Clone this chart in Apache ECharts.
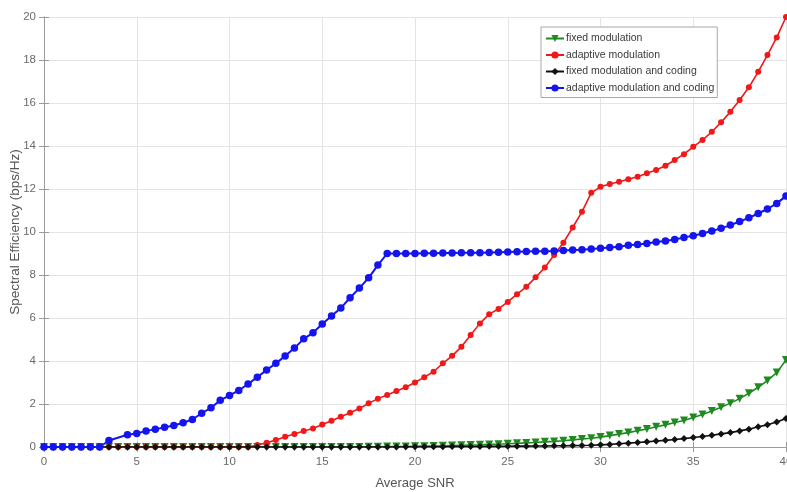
<!DOCTYPE html>
<html>
<head>
<meta charset="utf-8">
<script src="https://cdn.jsdelivr.net/npm/echarts@6/dist/echarts.min.js"></script>
<style>
  html, body { margin: 0; padding: 0; background: #fff; }
  #chart { width: 787px; height: 492px; }
</style>
</head>
<body>
<div id="chart"></div>
<script>
// Average SNR sample points (dB), 0.5 dB apart
const snr = [
  0, 0.5, 1, 1.5, 2, 2.5, 3, 3.5, 4, 4.5,
  5, 5.5, 6, 6.5, 7, 7.5, 8, 8.5, 9, 9.5,
  10, 10.5, 11, 11.5, 12, 12.5, 13, 13.5, 14, 14.5,
  15, 15.5, 16, 16.5, 17, 17.5, 18, 18.5, 19, 19.5,
  20, 20.5, 21, 21.5, 22, 22.5, 23, 23.5, 24, 24.5,
  25, 25.5, 26, 26.5, 27, 27.5, 28, 28.5, 29, 29.5,
  30, 30.5, 31, 31.5, 32, 32.5, 33, 33.5, 34, 34.5,
  35, 35.5, 36, 36.5, 37, 37.5, 38, 38.5, 39, 39.5,
  40
];

// Spectral efficiency (bps/Hz) per scheme
const fixedModulation = [
  0, 0, 0, 0, 0, 0, 0, 0, 0, 0,
  0, 0, 0, 0, 0, 0, 0, 0, 0, 0,
  0, 0, 0, 0, 0, 0, 0, 0, 0, 0,
  0, 0, 0, 0, 0, 0.01, 0.01, 0.02, 0.02, 0.02,
  0.03, 0.04, 0.05, 0.06, 0.07, 0.08, 0.09, 0.1, 0.12, 0.13,
  0.15, 0.17, 0.19, 0.21, 0.24, 0.26, 0.29, 0.33, 0.37, 0.41,
  0.46, 0.53, 0.6, 0.67, 0.76, 0.84, 0.94, 1.03, 1.14, 1.23,
  1.37, 1.51, 1.67, 1.85, 2.04, 2.25, 2.5, 2.78, 3.09, 3.46,
  4.05
];

const adaptiveModulation = [
  0, 0, 0, 0, 0, 0, 0, 0, 0, 0,
  0, 0, 0, 0, 0, 0, 0, 0, 0, 0,
  0, 0, 0, 0.09, 0.2, 0.32, 0.48, 0.6, 0.74, 0.86,
  1.05, 1.22, 1.41, 1.59, 1.79, 2.03, 2.25, 2.42, 2.6, 2.78,
  3.0, 3.25, 3.5, 3.89, 4.24, 4.66, 5.21, 5.75, 6.18, 6.42,
  6.75, 7.11, 7.45, 7.89, 8.35, 8.93, 9.5, 10.21, 10.94, 11.82,
  12.1, 12.23, 12.34, 12.45, 12.57, 12.73, 12.88, 13.08, 13.35, 13.62,
  13.96, 14.28, 14.66, 15.1, 15.59, 16.14, 16.73, 17.45, 18.23, 19.05,
  20.0
];

const fixedModulationCoding = [
  0, 0, 0, 0, 0, 0, 0, 0, 0, 0,
  0, 0, 0, 0, 0, 0, 0, 0, 0, 0,
  0, 0, 0, 0, 0, 0, 0, 0, 0, 0,
  0, 0, 0, 0, 0, 0, 0, 0, 0, 0.01,
  0.01, 0.01, 0.015, 0.015, 0.02, 0.02, 0.025, 0.025, 0.03, 0.03,
  0.035, 0.04, 0.04, 0.045, 0.05, 0.055, 0.06, 0.065, 0.07, 0.08,
  0.1, 0.12, 0.15, 0.18, 0.21, 0.24, 0.28, 0.31, 0.35, 0.39,
  0.44, 0.49, 0.55, 0.61, 0.67, 0.75, 0.83, 0.94, 1.03, 1.16,
  1.33
];

const adaptiveModulationCoding = [
  0, 0, 0, 0, 0, 0, 0, 0.3, null, 0.57,
  0.63, 0.75, 0.82, 0.92, 1.0, 1.13, 1.28, 1.57, 1.82, 2.17,
  2.4, 2.63, 2.93, 3.25, 3.58, 3.89, 4.23, 4.6, 5.03, 5.31,
  5.72, 6.09, 6.46, 6.94, 7.39, 7.87, 8.46, 9.0, 9.0, 9.0,
  9.0, 9.01, 9.01, 9.02, 9.02, 9.03, 9.03, 9.04, 9.05, 9.06,
  9.07, 9.08, 9.09, 9.1, 9.11, 9.12, 9.14, 9.16, 9.18, 9.21,
  9.24, 9.28, 9.31, 9.38, 9.42, 9.47, 9.53, 9.58, 9.65, 9.75,
  9.83, 9.93, 10.05, 10.17, 10.32, 10.49, 10.66, 10.86, 11.07, 11.33,
  11.67
];

const seriesNames = [
  'fixed modulation',
  'adaptive modulation',
  'fixed modulation and coding',
  'adaptive modulation and coding'
];

const xTicks = [0, 5, 10, 15, 20, 25, 30, 35, 40];
const yTicks = [0, 2, 4, 6, 8, 10, 12, 14, 16, 18, 20];

const FONT = '"Liberation Sans", Arial, sans-serif';

function pairs(ys) {
  return snr.map((x, i) => [x, ys[i]]);
}

const chart = echarts.init(document.getElementById('chart'), null, { renderer: 'canvas' });

const axisLineStyle = { color: '#9a9a9a', width: 1 };
const gridLine = { show: true, lineStyle: { color: '#e4e4e4', width: 1 } };

function lineSeries(name, ys, color, symbol, size, extra) {
  return Object.assign({
    name: name,
    type: 'line',
    data: pairs(ys),
    symbol: symbol,
    symbolSize: size,
    showAllSymbol: true,
    connectNulls: true,
    animation: false,
    lineStyle: { color: color, width: 1.6 },
    itemStyle: { color: color, borderWidth: 0 }
  }, extra || {});
}

chart.setOption({
  backgroundColor: '#ffffff',
  animation: false,
  textStyle: { fontFamily: FONT },
  grid: { left: 44, right: 1, top: 17, bottom: 45, containLabel: false, outerBoundsMode: 'none' },
  legend: {
    orient: 'vertical',
    left: 541,
    top: 27,
    padding: [6, 3, 4, 4],
    itemGap: 5.5,
    itemWidth: 18,
    itemHeight: 9,
    backgroundColor: '#ffffff',
    borderColor: '#a8a8a8',
    borderWidth: 1,
    textStyle: { fontFamily: FONT, fontSize: 10.5, color: '#3a3a3a', padding: [0, 0, 0, -3] },
    data: seriesNames
  },
  xAxis: [
    {
      type: 'value',
      position: 'bottom',
      min: 0, max: 40, interval: 5,
      name: 'Average SNR',
      nameLocation: 'middle',
      nameGap: 30,
      nameMoveOverlap: false,
      nameTextStyle: { fontFamily: FONT, fontSize: 13, color: '#555' },
      axisLine: { show: true, lineStyle: axisLineStyle },
      axisTick: { show: true, inside: true, length: 5, lineStyle: axisLineStyle },
      axisLabel: { fontFamily: FONT, fontSize: 11.5, color: '#6a6a6a', margin: 9,
        formatter: v => xTicks.includes(v) ? String(v) : '' },
      splitLine: gridLine
    },
    {
      type: 'value',
      position: 'top',
      min: 0, max: 40, interval: 5,
      axisLine: { show: true, lineStyle: axisLineStyle },
      axisTick: { show: true, inside: true, length: 5, lineStyle: axisLineStyle },
      axisLabel: { show: false },
      splitLine: { show: false }
    }
  ],
  yAxis: [
    {
      type: 'value',
      position: 'left',
      min: 0, max: 20, interval: 2,
      name: 'Spectral Efficiency (bps/Hz)',
      nameLocation: 'middle',
      nameGap: 22,
      nameMoveOverlap: false,
      nameTextStyle: { fontFamily: FONT, fontSize: 13.5, color: '#555' },
      axisLine: { show: true, lineStyle: axisLineStyle },
      axisTick: { show: true, inside: true, length: 5, lineStyle: axisLineStyle },
      axisLabel: { fontFamily: FONT, fontSize: 11.5, color: '#6a6a6a', margin: 8,
        formatter: v => yTicks.includes(v) ? String(v) : '' },
      splitLine: gridLine
    },
    {
      type: 'value',
      position: 'right',
      min: 0, max: 20, interval: 2,
      axisLine: { show: true, lineStyle: axisLineStyle },
      axisTick: { show: true, inside: true, length: 5, lineStyle: axisLineStyle },
      axisLabel: { show: false },
      splitLine: { show: false }
    }
  ],
  series: [
    lineSeries(seriesNames[0], fixedModulation, '#1f8a1f', 'triangle', 8, { symbolRotate: 180 }),
    lineSeries(seriesNames[1], adaptiveModulation, '#f01818', 'circle', 6),
    lineSeries(seriesNames[2], fixedModulationCoding, '#111111', 'diamond', 7),
    lineSeries(seriesNames[3], adaptiveModulationCoding, '#1414ee', 'circle', 7.5, { lineStyle: { color: '#1414ee', width: 2 } })
  ]
});
</script>
</body>
</html>
